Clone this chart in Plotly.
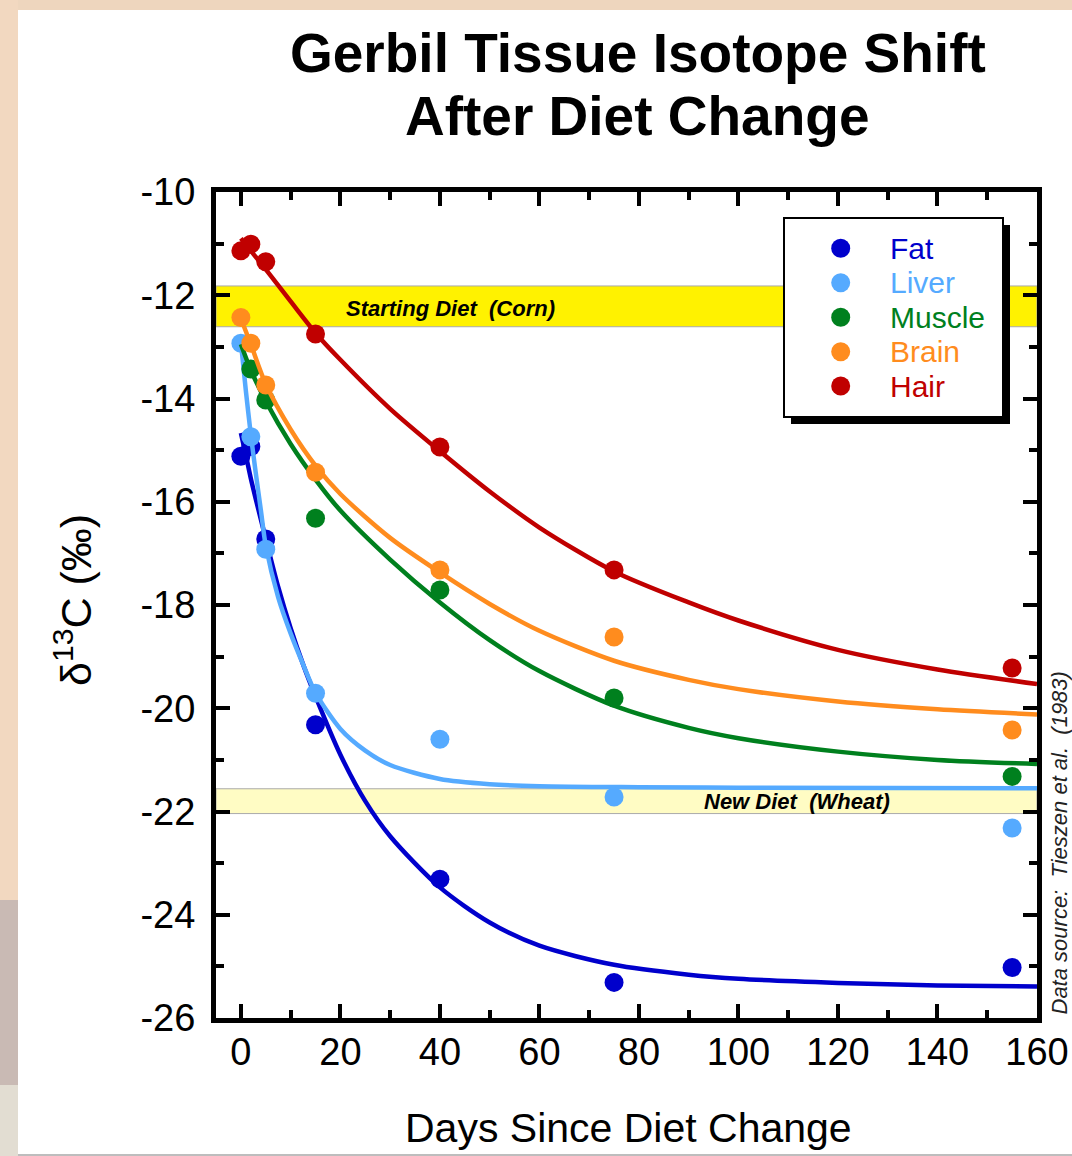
import plotly.graph_objects as go

# ---------------- data ----------------
days = [0, 2, 5, 15, 40, 75, 155]
fat = [-15.12, -14.93, -16.72, -20.32, -23.31, -25.31, -25.02]
liver = [-12.93, -14.74, -16.92, -19.71, -20.60, -21.72, -22.32]
muscle_days = [2, 5, 15, 40, 75, 155]
muscle = [-13.43, -14.03, -16.32, -17.71, -19.80, -21.32]
brain = [-12.43, -12.93, -13.74, -15.43, -17.32, -18.62, -20.42]
hair = [-11.14, -11.01, -11.35, -12.75, -14.94, -17.32, -19.22]

# fitted curves
fat_fit_x = [0, 1, 2, 3, 5, 7.5, 10, 12.5, 15, 20, 25, 30, 40, 50, 60, 75, 90, 100, 120, 140, 160]
fat_fit_y = [-14.67, -15.1, -15.55, -15.95, -16.72, -17.65, -18.45, -19.15, -19.77, -20.9, -21.8,
             -22.48, -23.47, -24.15, -24.6, -24.97, -25.16, -25.24, -25.32, -25.37, -25.39]
liver_fit_x = [0, 1, 2, 3, 4, 5, 7.5, 10, 12.5, 15, 20, 25, 30, 40, 50, 60, 80, 100, 160]
liver_fit_y = [-12.91, -13.85, -14.7, -15.45, -16.15, -16.85, -17.85, -18.55, -19.15, -19.7, -20.4,
               -20.82, -21.1, -21.37, -21.47, -21.51, -21.53, -21.54, -21.55]
muscle_fit_x = [0, 2, 5, 10, 15, 20, 30, 40, 50, 60, 75, 90, 100, 120, 140, 160]
muscle_fit_y = [-12.95, -13.45, -14.05, -14.88, -15.57, -16.17, -17.12, -17.95, -18.68, -19.28, -19.95,
                -20.38, -20.58, -20.84, -21.0, -21.08]
brain_fit_x = [0, 2, 5, 10, 15, 20, 30, 40, 50, 60, 75, 90, 100, 120, 140, 160]
brain_fit_y = [-12.45, -12.95, -13.72, -14.6, -15.3, -15.85, -16.7, -17.37, -17.98, -18.5, -19.08,
               -19.45, -19.63, -19.87, -20.02, -20.12]
hair_fit_x = [0, 5, 10, 15, 20, 30, 40, 50, 60, 75, 90, 100, 120, 140, 160]
hair_fit_y = [-10.9, -11.5, -12.12, -12.73, -13.25, -14.2, -15.02, -15.8, -16.5, -17.35, -17.95,
              -18.3, -18.87, -19.25, -19.53]

names = ["Fat", "Liver", "Muscle", "Brain", "Hair"]
colors = ["#0000CC", "#55AAFF", "#00801E", "#FF8C1E", "#C00000"]

corn_band = [-11.82, -12.61]
wheat_band = [-21.56, -22.04]

x_ticks = [0, 20, 40, 60, 80, 100, 120, 140, 160]
y_ticks = [-10, -12, -14, -16, -18, -20, -22, -24, -26]

# ---------------- layout geometry ----------------
W, H = 1072, 1156
L, T = 216, 192
PW, PH = 821, 826
R = W - L - PW
B = H - T - PH


def pxx(p):
    return (p - L) / PW


def pxy(p):
    return (T + PH - p) / PH


FONT = "Arial, Liberation Sans, Helvetica, sans-serif"

fig = go.Figure()

series = [
    (days, fat, fat_fit_x, fat_fit_y),
    (days, liver, liver_fit_x, liver_fit_y),
    (muscle_days, muscle, muscle_fit_x, muscle_fit_y),
    (days, brain, brain_fit_x, brain_fit_y),
    (days, hair, hair_fit_x, hair_fit_y),
]
for (sx, sy, fx, fy), name, col in zip(series, names, colors):
    fig.add_trace(go.Scatter(x=fx, y=fy, mode="lines", line=dict(color=col, width=4.5, shape="spline", smoothing=0.8),
                             showlegend=False, hoverinfo="skip", cliponaxis=True))
    fig.add_trace(go.Scatter(x=sx, y=sy, mode="markers", name=name,
                             marker=dict(color=col, size=19, line=dict(width=0)),
                             showlegend=False))

shapes = []
# page background and white panel
shapes.append(dict(type="rect", xref="paper", yref="paper", x0=pxx(0), x1=pxx(18), y0=pxy(0), y1=pxy(900),
                   fillcolor="#F2D8C0", line=dict(width=0), layer="below"))
shapes.append(dict(type="rect", xref="paper", yref="paper", x0=pxx(0), x1=pxx(18), y0=pxy(900), y1=pxy(1085),
                   fillcolor="#C9BAB4", line=dict(width=0), layer="below"))
shapes.append(dict(type="rect", xref="paper", yref="paper", x0=pxx(0), x1=pxx(18), y0=pxy(1085), y1=pxy(1156),
                   fillcolor="#E2DDD2", line=dict(width=0), layer="below"))
shapes.append(dict(type="rect", xref="paper", yref="paper", x0=pxx(18), x1=pxx(1072), y0=pxy(0), y1=pxy(10),
                   fillcolor="#EED6BE", line=dict(width=0), layer="below"))
shapes.append(dict(type="rect", xref="paper", yref="paper", x0=pxx(18), x1=pxx(1072), y0=pxy(10), y1=pxy(1154),
                   fillcolor="white", line=dict(width=0), layer="below"))
shapes.append(dict(type="line", xref="paper", yref="paper", x0=pxx(18), x1=pxx(1072), y0=pxy(1155), y1=pxy(1155),
                   line=dict(color="#BDBDBD", width=2), layer="below"))
# diet bands
shapes.append(dict(type="rect", xref="paper", yref="y", x0=0, x1=1, y0=corn_band[0], y1=corn_band[1],
                   fillcolor="#FFF200", line=dict(color="#AAAAAA", width=1), layer="below"))
shapes.append(dict(type="rect", xref="paper", yref="y", x0=0, x1=1, y0=wheat_band[0], y1=wheat_band[1],
                   fillcolor="#FFFCC4", line=dict(color="#AAAAAA", width=1), layer="below"))
# legend box with shadow
shapes.append(dict(type="rect", xref="paper", yref="paper", x0=pxx(791), x1=pxx(1010), y0=pxy(225), y1=pxy(424),
                   fillcolor="black", line=dict(width=0)))
shapes.append(dict(type="rect", xref="paper", yref="paper", x0=pxx(784), x1=pxx(1003), y0=pxy(218), y1=pxy(417),
                   fillcolor="white", line=dict(color="black", width=2)))
legend_rows = [248.3, 282.7, 317.3, 351.7, 386.0]
for yy, col in zip(legend_rows, colors):
    shapes.append(dict(type="circle", xref="paper", yref="paper", xsizemode="pixel", ysizemode="pixel",
                       xanchor=pxx(840.7), yanchor=pxy(yy), x0=-9.5, x1=9.5, y0=-9.5, y1=9.5,
                       fillcolor=col, line=dict(width=0)))

annotations = []
annotations.append(dict(text="Gerbil Tissue Isotope Shift", x=pxx(637.5), y=pxy(53), xref="paper", yref="paper",
                        showarrow=False, xanchor="center", yanchor="middle",
                        font=dict(family=FONT, size=55, color="black", weight="bold")))
annotations.append(dict(text="After Diet Change", x=pxx(637), y=pxy(116), xref="paper", yref="paper",
                        showarrow=False, xanchor="center", yanchor="middle",
                        font=dict(family=FONT, size=55, color="black", weight="bold")))
annotations.append(dict(text="Days Since Diet Change", x=pxx(628), y=pxy(1128), xref="paper", yref="paper",
                        showarrow=False, xanchor="center", yanchor="middle",
                        font=dict(family=FONT, size=41, color="black")))
annotations.append(dict(text="δ<sup>13</sup>C (‰)", x=pxx(73), y=pxy(600), xref="paper", yref="paper",
                        showarrow=False, xanchor="center", yanchor="middle", textangle=-90,
                        font=dict(family=FONT, size=43, color="black")))
annotations.append(dict(text="Data source:\u00a0 Tieszen et al.\u00a0 (1983)", x=pxx(1059), y=pxy(1017),
                        xref="paper", yref="paper", showarrow=False, xanchor="center", yanchor="bottom",
                        textangle=-90, font=dict(family=FONT, size=22, color="#222222", style="italic")))
annotations.append(dict(text="Starting Diet\u00a0 (Corn)", x=pxx(450), y=pxy(308), xref="paper", yref="paper",
                        showarrow=False, xanchor="center", yanchor="middle",
                        font=dict(family=FONT, size=22, color="black", weight="bold", style="italic")))
annotations.append(dict(text="New Diet\u00a0 (Wheat)", x=pxx(797), y=pxy(801.5), xref="paper", yref="paper",
                        showarrow=False, xanchor="center", yanchor="middle",
                        font=dict(family=FONT, size=22, color="black", weight="bold", style="italic")))
for yy, name, col in zip(legend_rows, names, colors):
    annotations.append(dict(text=name, x=pxx(888), y=pxy(yy), xref="paper", yref="paper",
                            showarrow=False, xanchor="left", yanchor="middle",
                            font=dict(family=FONT, size=30, color=col)))

axis_common = dict(
    showline=True, linecolor="black", linewidth=5, mirror="ticks",
    ticks="inside", ticklen=14, tickwidth=4, tickcolor="black",
    showgrid=False, zeroline=False,
    tickfont=dict(family=FONT, size=38, color="black"),
)

fig.update_layout(
    width=W, height=H,
    margin=dict(l=L, r=R, t=T, b=B, autoexpand=False),
    paper_bgcolor="white", plot_bgcolor="rgba(0,0,0,0)",
    showlegend=False,
    shapes=shapes, annotations=annotations,
    xaxis=dict(range=[-5, 160], tickvals=x_ticks, ticktext=[str(v) for v in x_ticks],
               minor=dict(dtick=10, tick0=0, ticks="inside", ticklen=8, tickwidth=4, tickcolor="black"),
               ticklabelstandoff=-4, **axis_common),
    yaxis=dict(range=[-26, -10], tickvals=y_ticks, ticktext=[str(v) for v in y_ticks],
               minor=dict(dtick=1, tick0=-26, ticks="inside", ticklen=8, tickwidth=4, tickcolor="black"),
               ticklabelstandoff=8, **axis_common),
)

fig.write_html(
    "out.html",
    config={"displayModeBar": False},
    post_script="document.body.style.margin='0';document.body.style.overflow='hidden';",
)
